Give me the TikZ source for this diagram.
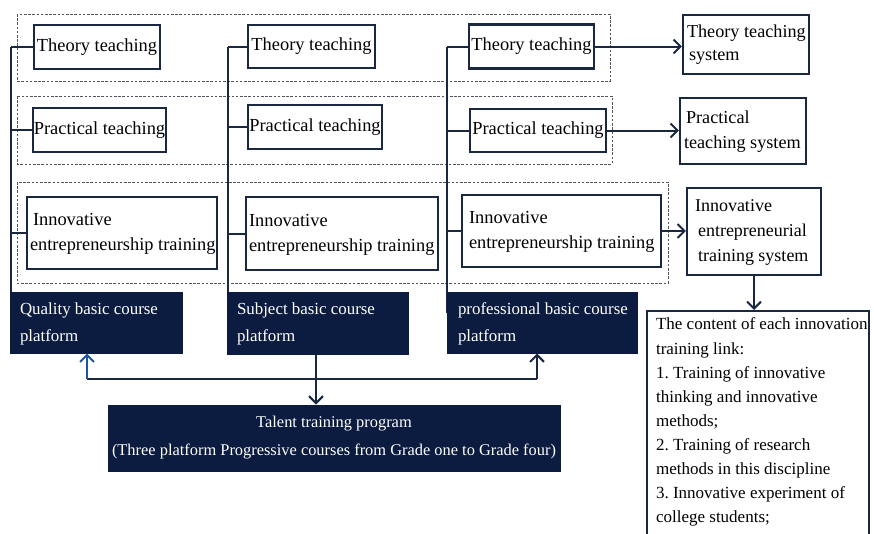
\documentclass[tikz,border=0pt]{standalone}
\usepackage{fontspec}
\setmainfont{Liberation Serif}
\usetikzlibrary{arrows.meta}
\definecolor{navy}{HTML}{0C1C40}
\definecolor{lc}{HTML}{1A2740}
\definecolor{arrblue}{HTML}{1F55A0}
\definecolor{dashc}{HTML}{50565F}
\newcommand\Lbox[3]{\makebox[#1][l]{\hspace*{#2}\begin{tabular}{@{}l@{}}#3\end{tabular}}}
\frenchspacing
\begin{document}
\begin{tikzpicture}[x=1pt,y=-1pt,
  box/.style={draw=lc, line width=2.1pt, fill=white, inner xsep=0pt, inner ysep=0pt, font=\fontsize{18.4}{25}\selectfont, text=black},
  darkbox/.style={draw=navy, line width=1pt, fill=navy, inner xsep=0pt, inner ysep=0pt, font=\fontsize{16.9}{27}\selectfont, text=white},
  grp/.style={draw=dashc, line width=0.9pt, dash pattern=on 2.6pt off 1.6pt},
  conn/.style={draw=lc, line width=2pt},
  arr/.style={conn, -{Straight Barb[length=7pt,width=14pt]}}
  ]
\useasboundingbox (0,0) rectangle (874,533);
% dashed groups
\draw[grp] (17,14) rectangle (610,81);
\draw[grp] (17,96) rectangle (612,164);
\draw[grp] (17,182) rectangle (668,283);
% column vertical lines
\coordinate (v1t) at (11,47);
\coordinate (v2t) at (228,47);
\coordinate (v3t) at (446.5,47);
\coordinate (v3b) at (446.5,313);
\draw[conn] (v1t) -- (11,292);
\draw[conn] (v2t) -- (228,292);
\draw[conn] (v3t) -- (v3b);
% column 1
\node[box, minimum width=126pt, minimum height=44pt] (t1) at (97,47) {Theory teaching};
\node[box, minimum width=133pt, minimum height=44pt] (p1) at (99.5,130) {Practical teaching};
\node[box, minimum height=72pt] (i1) at (122,233) {\Lbox{190pt}{3pt}{\hspace*{3pt}Innovative\\entrepreneurship training}};
\node[darkbox, minimum height=61pt] (q1) at (96,322.5) {\Lbox{172pt}{10pt}{Quality basic course\\platform}};
% column 2
\node[box, minimum width=127pt, minimum height=43pt] (t2) at (311.5,46.5) {Theory teaching};
\node[box, minimum width=134pt, minimum height=44pt] (p2) at (315,127) {Practical teaching};
\node[box, minimum height=73pt] (i2) at (342,233.5) {\Lbox{192pt}{3pt}{Innovative\\entrepreneurship training}};
\node[darkbox, minimum height=62pt] (s2) at (317.5,323) {\Lbox{181pt}{10pt}{Subject basic course\\platform}};
% column 3
\node[box, minimum width=125pt, minimum height=44pt] (t3) at (531.5,46.5) {Theory teaching};
\node[box, minimum width=136pt, minimum height=43pt] (p3) at (538,130.5) {Practical teaching};
\node[box, minimum height=72pt] (i3) at (561.5,231) {\Lbox{199pt}{7pt}{Innovative\\entrepreneurship training}};
\node[darkbox, minimum height=61pt] (pr3) at (542,322.5) {\Lbox{190pt}{11pt}{professional basic course\\platform}};
% branches
\foreach \n/\v in {t1/v1t,p1/v1t,i1/v1t,t2/v2t,p2/v2t,i2/v2t,t3/v3t,p3/v3t,i3/v3t}
  \draw[conn] (\n.west) -- (\n.west -| \v);
% system boxes
\node[box, minimum height=59pt, font=\fontsize{18.2}{23}\selectfont] (ts) at (746,44.5) {\Lbox{126pt}{4pt}{Theory teaching\\\hspace*{2pt}system}};
\node[box, minimum height=66pt, font=\fontsize{18.2}{25}\selectfont] (ps) at (743,131) {\Lbox{126pt}{4pt}{\hspace*{2pt}Practical\\teaching system}};
\node[box, minimum height=87pt, font=\fontsize{18}{25}\selectfont] (is) at (754,231.5) {\Lbox{134pt}{11pt}{\hspace*{-3pt}Innovative\\entrepreneurial\\training system}};
\node[box, anchor=north west, inner ysep=2pt, font=\fontsize{17}{24.1}\selectfont] (cb) at (646,310) {\Lbox{222pt}{9pt}{The content of each innovation\\training link:\\1. Training of innovative\\thinking and innovative\\methods;\\2. Training of research\\methods in this discipline\\3. Innovative experiment of\\college students;\\[20pt]}};
% talent box
\node[darkbox, minimum width=452pt, minimum height=66pt, inner xsep=2pt, align=center, font=\fontsize{16.4}{28}\selectfont] (tal) at (334,438) {Talent training program\\(Three platform Progressive courses from Grade one to Grade four)};
% arrows to systems
\draw[arr] (t3.east) -- (ts.west |- t3.east);
\draw[arr] (p3.east) -- (ps.west |- p3.east);
\draw[arr] (i3.east) -- (is.west |- i3.east);
\draw[arr] (is.south) -- (cb.north -| is.south);
% bottom connectors
\coordinate (hl) at (87,379);
\coordinate (hr) at (537,379);
\draw[arr] (s2.south -| 316,0) -- (tal.north -| 316,0);
\draw[conn] (hl) -- (hr);
\draw[arr, draw=arrblue] (hl) -- (q1.south -| hl);
\draw[arr] (hr) -- (pr3.south -| hr);
\end{tikzpicture}
\end{document}
